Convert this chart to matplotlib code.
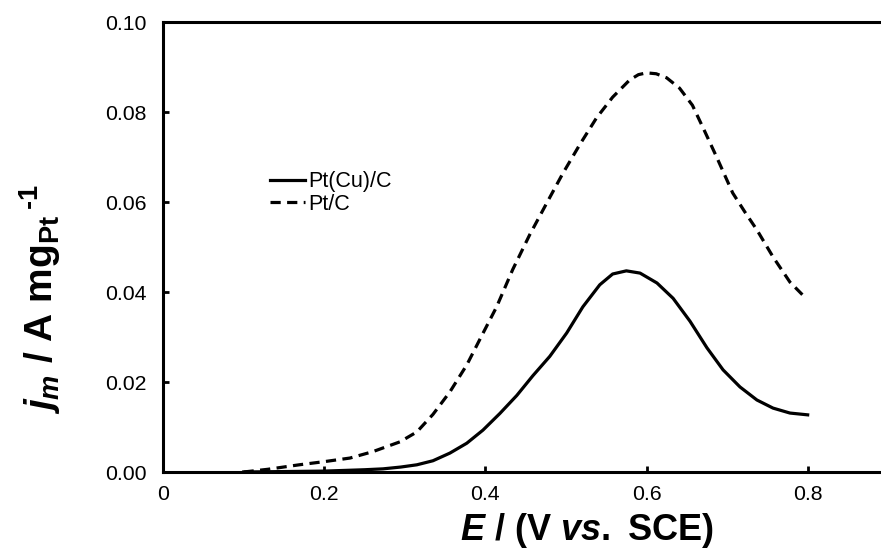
import matplotlib
matplotlib.use("Agg")
import matplotlib.pyplot as plt

plt.rcParams['font.family'] = ['Liberation Sans', 'DejaVu Sans']
plt.rcParams['mathtext.fontset'] = 'custom'
plt.rcParams['mathtext.rm'] = 'Liberation Sans:bold'
plt.rcParams['mathtext.it'] = 'Liberation Sans:bold:italic'
plt.rcParams['mathtext.bf'] = 'Liberation Sans:bold'

# Pt(Cu)/C catalyst
e_ptcu = [0.10, 0.15, 0.20, 0.25, 0.273, 0.295, 0.315, 0.335, 0.356, 0.377,
          0.397, 0.418, 0.439, 0.459, 0.480, 0.501, 0.521, 0.542, 0.558, 0.575,
          0.592, 0.613, 0.633, 0.654, 0.675, 0.695, 0.716, 0.737, 0.757, 0.778, 0.800]
j_ptcu = [0.0, 0.0001, 0.0002, 0.0005, 0.0007, 0.0011, 0.0016, 0.0025, 0.0042, 0.0064,
          0.0093, 0.0130, 0.0170, 0.0214, 0.0257, 0.0309, 0.0367, 0.0416, 0.0440, 0.0447,
          0.0442, 0.0420, 0.0386, 0.0335, 0.0276, 0.0227, 0.0189, 0.0160, 0.0142, 0.0131, 0.0127]

# Pt/C catalyst
e_pt = [0.10, 0.13, 0.169, 0.20, 0.232, 0.26, 0.294, 0.315, 0.335, 0.356,
        0.377, 0.397, 0.414, 0.434, 0.455, 0.476, 0.496, 0.517, 0.538, 0.558,
        0.579, 0.590, 0.600, 0.612, 0.625, 0.641, 0.657, 0.672, 0.687, 0.707,
        0.722, 0.737, 0.757, 0.778, 0.794]
j_pt = [0.0, 0.0006, 0.0016, 0.0023, 0.0031, 0.0045, 0.0067, 0.0089, 0.0128, 0.0178,
        0.0238, 0.0308, 0.0367, 0.0450, 0.0527, 0.0597, 0.0663, 0.0727, 0.0787, 0.0833,
        0.0871, 0.0883, 0.0887, 0.0885, 0.0876, 0.0853, 0.0815, 0.0758, 0.0700, 0.0620,
        0.0578, 0.0538, 0.0478, 0.0422, 0.0393]

x_ticks = [0, 0.2, 0.4, 0.6, 0.8]
x_ticklabels = ['0', '0.2', '0.4', '0.6', '0.8']
y_ticks = [0.00, 0.02, 0.04, 0.06, 0.08, 0.10]

fig = plt.figure(figsize=(8.81, 5.49), dpi=100)
ax = fig.add_axes([163 / 881, 77 / 549, 718 / 881, 450 / 549])

ax.plot(e_ptcu, j_ptcu, color='black', lw=2.3, label='Pt(Cu)/C')
ax.plot(e_pt, j_pt, color='black', lw=2.3, dashes=(3.2, 2.0), label='Pt/C')

ax.set_xlim(0, 0.891)
ax.set_ylim(0, 0.10)
ax.set_xticks(x_ticks)
ax.set_xticklabels(x_ticklabels)
ax.set_yticks(y_ticks)
ax.set_yticklabels(['%.2f' % v for v in y_ticks])

for side in ['left', 'bottom', 'top']:
    ax.spines[side].set_linewidth(2.2)
ax.spines['right'].set_visible(False)
ax.tick_params(direction='in', length=4, width=2, labelsize=15.3, pad=9)
ax.tick_params(axis='y', pad=12)

ax.set_xlabel(r'$E$ / (V $vs.$ SCE)', fontsize=26, fontweight='bold')
ax.xaxis.set_label_coords(0.59, -0.086)
ax.set_ylabel(r'$j_m$ / A mg$_\mathrm{Pt}\,{}^{\text{-1}}$', fontsize=28,
              fontweight='bold')
ax.yaxis.set_label_coords(-0.139, 0.385)

ax.legend(loc='upper left', bbox_to_anchor=(0.1225, 0.711), frameon=False,
          fontsize=15.5, handlelength=1.63, handletextpad=0.15, labelspacing=0.05)

fig.savefig('out.png', dpi=100)
